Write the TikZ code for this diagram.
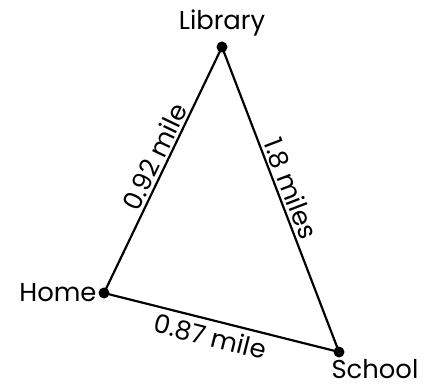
\documentclass[tikz,border=0pt]{standalone}
\usepackage{fontspec}
\setmainfont{Poppins}
\usepackage{tikz}
\usetikzlibrary{positioning}

\begin{document}
\begin{tikzpicture}[x=0.6pt, y=-0.6pt, every node/.style={font=\fontsize{15.5}{18}\selectfont}]
	\useasboundingbox (0,0) rectangle (428,392);
	% places
	\fill (222,47) circle (5.5) coordinate (lib);
	\fill (104,293) circle (5.5) coordinate (home);
	\fill (339,352) circle (5.5) coordinate (school);
	\node[above=3pt of lib] (libname) {Library};
	\node[left=1pt of home] (homename) {Home};
	\node[below right=1pt and -8pt of school] (schoolname) {School};
	% roads
	\draw[line width=1.3pt] (home) -- node[sloped, above, pos=0.53, inner sep=1.5pt] (dHL) {0.92 mile} (lib)
		-- node[sloped, above, pos=0.48, inner sep=1.5pt] (dLS) {1.8 miles} (school);
	\draw[line width=1.3pt] (home) -- node[sloped, below, pos=0.47, inner sep=3pt] (dHS) {0.87 mile} (school);
\end{tikzpicture}
\end{document}
